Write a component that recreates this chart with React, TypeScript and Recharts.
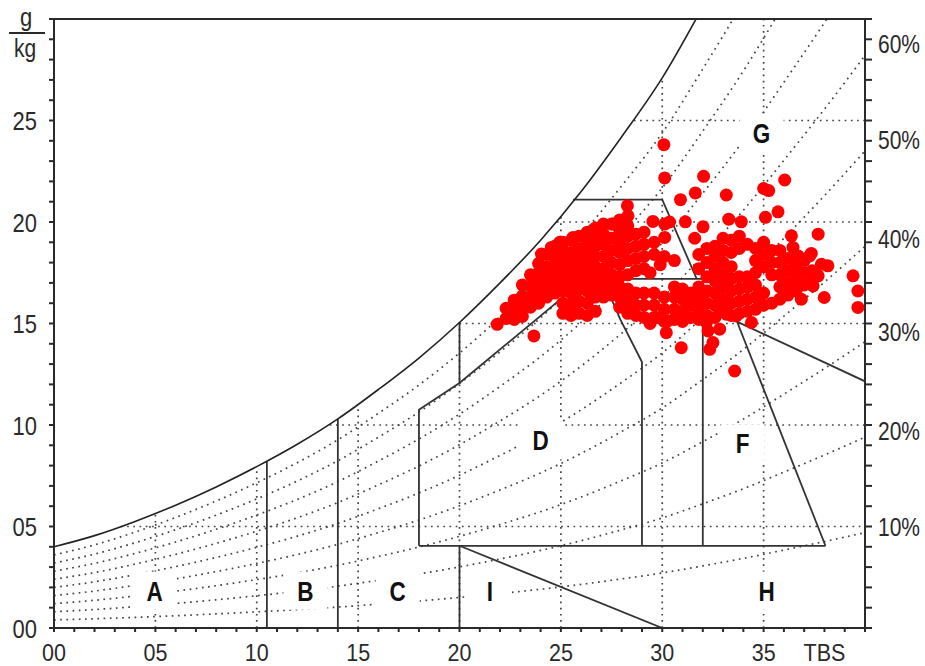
import { ComposedChart, Line, Scatter, XAxis, YAxis } from 'recharts';

const FONT = '"Liberation Sans", Arial, sans-serif';
const INK = '#2a2a2a';
const DOTTED = '#444';

// saturation humidity (g/kg) against dry bulb temperature (°C)
const satTemps = [0, 2, 4, 6, 8, 10, 12, 14, 16, 18, 20, 22, 24, 26, 28, 30, 32, 34, 36, 38, 40];
const satHumidity = [4.0, 4.55, 5.25, 6.05, 6.95, 7.95, 9.05, 10.3, 11.75, 13.3, 15.05, 17.0, 19.1, 21.5, 24.2, 27.1, 30.6, 34.3, 38.4, 42.6, 47.0];
const rhLevels = [10, 20, 30, 40, 50, 60, 70, 80, 90];

// dotted grid, kept below the saturation curve
const gridTemps = [5, 10, 15, 20, 25, 30, 35];
const gridTempTops = [5.65, 7.95, 11.0, 15.05, 20.3, 27.1, 30];
const gridHumidities = [5, 10, 15, 20, 25];
const gridHumidityStarts = [3.3, 13.6, 20.0, 24.8, 28.6];

const xTicks = [0, 1, 2, 3, 4, 5, 6, 7, 8, 9, 10, 11, 12, 13, 14, 15, 16, 17, 18, 19, 20, 21, 22, 23, 24, 25, 26, 27, 28, 29, 30, 31, 32, 33, 34, 35, 36, 37, 38, 39, 40];
const xLabelTicks = [0, 5, 10, 15, 20, 25, 30, 35, 38];
const xLabels = ['00', '05', '10', '15', '20', '25', '30', '35', 'TBS'];
const yTicks = [0, 1, 2, 3, 4, 5, 6, 7, 8, 9, 10, 11, 12, 13, 14, 15, 16, 17, 18, 19, 20, 21, 22, 23, 24, 25, 26, 27, 28, 29, 30];
const yLabelTicks = [0, 5, 10, 15, 20, 25];
const yLabels = ['00', '05', '10', '15', '20', '25'];
const rhLabelTicks = [4.98, 9.69, 14.58, 19.16, 24.02, 28.78];
const rhLabels = ['10%', '20%', '30%', '40%', '50%', '60%'];

// zone boundaries as polylines of [temperature, humidity]
const zoneEdges: [number, number][][] = [
  [[10.5, 0], [10.5, 8.2]],
  [[14, 0], [14, 10.3]],
  [[20, 0], [20, 4.05]],
  [[20, 4.05], [30, 0]],
  [[18, 4.05], [38.05, 4.05]],
  [[18, 4.05], [18, 10.75], [20, 12.07], [26.2, 17.2]],
  [[20, 12.07], [20, 15.05]],
  [[25.6, 21.1], [30, 21.1], [31.7, 17.2]],
  [[28.2, 17.2], [32, 17.2]],
  [[29, 4.05], [29, 13.1], [27.93, 15.2], [27.5, 16.2]],
  [[32, 4.05], [32, 17.2]],
  [[38.05, 4.05], [33.7, 15.06]],
  [[40, 12.15], [32.6, 15.6]],
];

const zoneLetters = ['A', 'B', 'C', 'I', 'H', 'D', 'F', 'G'];
const zoneLetterTemps = [4.96, 12.4, 16.95, 21.5, 35.15, 24.0, 33.97, 34.9];
const zoneLetterHumidities = [1.84, 1.84, 1.84, 1.84, 1.84, 9.24, 9.1, 24.4];

// hourly readings [dry bulb °C, humidity g/kg]
const readings: [number, number][] = [
  // scattered
  [30.08, 23.81], [30.12, 22.17], [32.04, 22.25], [31.63, 21.43], [30.9, 21.1], [33.16, 21.33],
  [35.0, 21.65], [35.25, 21.55], [36.04, 22.07], [35.71, 20.5], [35.09, 20.23], [33.28, 20.14],
  [33.9, 20.01], [31.14, 20.01], [32.01, 19.76], [36.37, 19.32], [37.69, 19.4], [37.35, 18.45],
  [36.45, 18.75], [28.28, 20.8], [28.31, 20.3], [29.54, 20.03], [30.12, 19.9], [30.12, 19.24],
  [30.36, 20.0], [27.57, 19.9], [24.04, 18.42], [24.53, 18.75], [24.94, 19.0], [25.6, 19.24],
  [21.86, 14.96], [23.67, 14.39], [30.2, 14.55], [29.71, 15.29], [30.27, 15.13], [29.4, 15.0],
  [30.94, 13.81], [32.34, 13.73], [32.5, 14.06], [32.83, 14.72], [32.26, 14.63], [32.18, 15.05],
  [33.57, 12.66], [34.4, 15.05], [33.65, 15.37], [33.16, 15.46], [36.86, 16.2], [37.99, 16.28],
  [39.65, 15.79], [39.65, 16.6], [39.41, 17.35], [37.44, 16.85], [37.69, 17.35], [37.85, 17.92],
  [38.17, 17.84], [37.27, 18.33], [36.7, 18.33], [29.4, 17.5], [29.9, 17.9], [31.6, 19.2],
  // warm humid mass
  [22.3, 15.25], [22.3, 15.75],
  [22.7, 15.2], [22.7, 15.7], [22.7, 16.15],
  [23.1, 15.35], [23.1, 15.85], [23.1, 16.35], [23.1, 16.9],
  [23.5, 15.8], [23.5, 16.3], [23.5, 16.85], [23.5, 17.4],
  [23.9, 16.0], [23.9, 16.5], [23.9, 17.0], [23.9, 17.5], [23.9, 17.95],
  [24.3, 16.3], [24.3, 16.8], [24.3, 17.3], [24.3, 17.8], [24.3, 18.4],
  [24.7, 16.5], [24.7, 16.95], [24.7, 17.45], [24.7, 17.95], [24.7, 18.35], [24.7, 18.8],
  [25.1, 15.5], [25.1, 16.0], [25.1, 16.6], [25.1, 17.1], [25.1, 17.6], [25.1, 18.1], [25.1, 18.6], [25.1, 19.0],
  [25.5, 15.4], [25.5, 15.95], [25.5, 16.5], [25.5, 17.0], [25.5, 17.5], [25.5, 18.0], [25.5, 18.5], [25.5, 19.1],
  [25.9, 15.5], [25.9, 16.1], [25.9, 16.7], [25.9, 17.2], [25.9, 17.7], [25.9, 18.2], [25.9, 18.7], [25.9, 19.3],
  [26.3, 15.4], [26.3, 16.0], [26.3, 16.6], [26.3, 17.1], [26.3, 17.6], [26.3, 18.1], [26.3, 18.6], [26.3, 19.1], [26.3, 19.5],
  [26.7, 15.6], [26.7, 16.3], [26.7, 16.8], [26.7, 17.3], [26.7, 17.8], [26.7, 18.3], [26.7, 18.8], [26.7, 19.3], [26.7, 19.7],
  [27.1, 16.3], [27.1, 16.8], [27.1, 17.2], [27.1, 17.7], [27.1, 18.3], [27.1, 18.9], [27.1, 19.4], [27.1, 19.9],
  [27.5, 16.4], [27.5, 16.9], [27.5, 17.4], [27.5, 18.0], [27.5, 18.6], [27.5, 19.2], [27.5, 19.9],
  [27.9, 15.8], [27.9, 16.3], [27.9, 16.8], [27.9, 17.3], [27.9, 17.9], [27.9, 18.5], [27.9, 19.0], [27.9, 19.6], [27.9, 20.1],
  [28.3, 15.5], [28.3, 16.1], [28.3, 16.7], [28.3, 17.4], [28.3, 18.1], [28.3, 18.7], [28.3, 19.3], [28.3, 19.8],
  [28.7, 15.4], [28.7, 15.9], [28.7, 16.5], [28.7, 17.6], [28.7, 18.2], [28.7, 18.8], [28.7, 19.4],
  [29.1, 15.3], [29.1, 15.9], [29.1, 16.5], [29.1, 17.7], [29.1, 18.3], [29.1, 18.9], [29.1, 19.5],
  [29.6, 15.3], [29.6, 15.9], [29.6, 16.5], [29.6, 18.4], [29.6, 19.0],
  [30.1, 15.1], [30.1, 15.7], [30.1, 16.3], [30.1, 18.3],
  // hot mass
  [30.6, 15.2], [30.6, 15.7], [30.6, 16.3], [30.6, 16.8], [30.6, 18.1],
  [31.0, 15.1], [31.0, 15.6], [31.0, 16.2], [31.0, 16.7],
  [31.4, 15.3], [31.4, 15.9], [31.4, 16.5],
  [31.8, 15.2], [31.8, 15.7], [31.8, 16.3], [31.8, 16.8], [31.8, 17.7], [31.8, 18.4],
  [32.2, 15.4], [32.2, 16.0], [32.2, 16.6], [32.2, 17.3], [32.2, 18.0], [32.2, 18.7],
  [32.6, 15.3], [32.6, 15.9], [32.6, 16.5], [32.6, 17.1], [32.6, 17.7], [32.6, 18.3], [32.6, 18.8],
  [33.0, 15.6], [33.0, 16.2], [33.0, 16.8], [33.0, 17.4], [33.0, 18.0], [33.0, 18.6], [33.0, 19.2],
  [33.4, 15.4], [33.4, 16.0], [33.4, 16.6], [33.4, 17.2], [33.4, 17.8], [33.4, 18.5], [33.4, 19.1],
  [33.8, 15.5], [33.8, 16.1], [33.8, 16.7], [33.8, 17.3], [33.8, 18.7], [33.8, 19.3],
  [34.2, 15.6], [34.2, 16.2], [34.2, 16.8], [34.2, 17.3], [34.2, 18.9],
  [34.6, 15.7], [34.6, 16.3], [34.6, 16.9], [34.6, 17.5], [34.6, 18.1], [34.6, 18.7],
  [35.0, 15.9], [35.0, 16.5], [35.0, 17.8], [35.0, 18.4], [35.0, 19.0],
  [35.4, 16.0], [35.4, 17.4], [35.4, 18.0], [35.4, 18.6],
  [35.8, 16.2], [35.8, 16.8], [35.8, 17.4], [35.8, 18.0], [35.8, 18.6],
  [36.2, 16.4], [36.2, 17.0], [36.2, 17.6], [36.2, 18.2],
  [36.6, 16.6], [36.6, 17.2], [36.6, 17.8],
  [37.0, 16.9], [37.0, 17.5], [37.0, 18.1],
  [37.4, 17.1], [37.4, 17.6],
];

const toPoints = (pairs: [number, number][]) => pairs.map(([t, w]) => ({ t, w }));

const satCurve = satTemps.map((t, i) => ({ t, w: satHumidity[i] }));
const rhCurves = rhLevels.map((rh) => satTemps.map((t, i) => ({ t, w: (satHumidity[i] * rh) / 100 })));
const gridVertical = gridTemps.map((t, i) => [{ t, w: 0 }, { t, w: gridTempTops[i] }]);
const gridHorizontal = gridHumidities.map((w, i) => [{ t: gridHumidityStarts[i], w }, { t: 40, w }]);
const letterPoints = zoneLetters.map((letter, i) => ({ t: zoneLetterTemps[i], w: zoneLetterHumidities[i], letter }));
const readingPoints = toPoints(readings);

// the axis lettering is tall and narrow, so it is stretched vertically
function TallText({ x, y, anchor, size, dy, stretch = 1.2, children }: any) {
  return (
    <text
      transform={`translate(${x},${y}) scale(1,${stretch})`}
      textAnchor={anchor}
      dy={dy}
      fontFamily={FONT}
      fontSize={size}
      fill={INK}
    >
      {children}
    </text>
  );
}

function BottomTick(props: any) {
  const { x, y, payload } = props;
  const i = xLabelTicks.indexOf(payload.value);
  if (i < 0) return null;
  return (
    <TallText x={x} y={y} anchor="middle" size={21.5} dy="0.72em" stretch={1.1}>
      {xLabels[i]}
    </TallText>
  );
}

function LeftTick(props: any) {
  const { x, y, payload } = props;
  const i = yLabelTicks.indexOf(payload.value);
  if (i < 0) return null;
  return <TallText x={x} y={y} anchor="end" size={22} dy="0.36em">{yLabels[i]}</TallText>;
}

function RightTick(props: any) {
  const { x, y, payload } = props;
  const i = rhLabelTicks.indexOf(payload.value);
  if (i >= 0) {
    return <TallText x={x + 13} y={y} anchor="start" size={21} dy="0.36em">{rhLabels[i]}</TallText>;
  }
  return <line x1={x} x2={x + 7} y1={y} y2={y} stroke={INK} strokeWidth={2} />;
}

function ZoneLetter(props: any) {
  const { cx, cy, payload } = props;
  return (
    <g>
      <rect x={cx - 22} y={cy - 19} width={44} height={38} fill="#fff" />
      <text
        transform={`translate(${cx},${cy}) scale(0.9,1.1)`}
        dy="0.36em"
        textAnchor="middle"
        fontFamily={FONT}
        fontWeight="bold"
        fontSize={25}
        fill="#111"
      >
        {payload.letter}
      </text>
    </g>
  );
}

function Reading(props: any) {
  return <circle cx={props.cx} cy={props.cy} r={6.5} fill="#ff0000" />;
}

const dottedLine = {
  type: 'linear' as const,
  dataKey: 'w',
  stroke: DOTTED,
  strokeWidth: 1.7,
  strokeDasharray: '1.7 4.5',
  dot: false,
  activeDot: false,
  isAnimationActive: false,
};

export default function App() {
  return (
    <div style={{ position: 'absolute', left: 0, top: 0, width: 925, height: 666, background: '#fff' }}>
      <ComposedChart width={925} height={666} margin={{ top: 0, right: 0, bottom: 0, left: 0 }}>
        <XAxis
          dataKey="t"
          type="number"
          domain={[0, 40]}
          allowDataOverflow
          ticks={xTicks}
          interval={0}
          tick={<BottomTick />}
          tickSize={4}
          tickMargin={11.5}
          height={38}
          stroke={INK}
          strokeWidth={2}
        />
        <XAxis
          xAxisId="top"
          orientation="top"
          dataKey="t"
          type="number"
          domain={[0, 40]}
          allowDataOverflow
          ticks={xTicks}
          interval={0}
          tick={false}
          tickSize={4}
          height={19}
          stroke={INK}
          strokeWidth={2}
        />
        <YAxis
          dataKey="w"
          type="number"
          domain={[0, 30]}
          allowDataOverflow
          ticks={yTicks}
          interval={0}
          tick={<LeftTick />}
          tickSize={5}
          tickMargin={12}
          width={54}
          stroke={INK}
          strokeWidth={2}
        />
        <YAxis
          yAxisId="right"
          orientation="right"
          dataKey="w"
          type="number"
          domain={[0, 30]}
          allowDataOverflow
          ticks={[...yTicks, ...rhLabelTicks]}
          interval={0}
          tick={<RightTick />}
          tickLine={false}
          tickSize={0}
          tickMargin={0}
          width={60}
          stroke={INK}
          strokeWidth={2}
        />

        {/* carries the top and right frame axes */}
        <Line
          xAxisId="top"
          yAxisId="right"
          data={satCurve}
          dataKey="w"
          stroke="none"
          dot={false}
          activeDot={false}
          isAnimationActive={false}
        />

        {rhCurves.map((curve, i) => (
          <Line key={`rh-${i}`} data={curve} {...dottedLine} type="monotone" />
        ))}
        {gridVertical.map((seg, i) => (
          <Line key={`gv-${i}`} data={seg} {...dottedLine} />
        ))}
        {gridHorizontal.map((seg, i) => (
          <Line key={`gh-${i}`} data={seg} {...dottedLine} />
        ))}

        <Scatter data={letterPoints} shape={<ZoneLetter />} isAnimationActive={false} />

        {zoneEdges.map((edge, i) => (
          <Line
            key={`zone-${i}`}
            data={toPoints(edge)}
            type="linear"
            dataKey="w"
            stroke="#333"
            strokeWidth={1.8}
            dot={false}
            activeDot={false}
            isAnimationActive={false}
          />
        ))}
        <Line
          data={satCurve}
          type="monotone"
          dataKey="w"
          stroke="#222"
          strokeWidth={1.6}
          dot={false}
          activeDot={false}
          isAnimationActive={false}
        />

        <Scatter data={readingPoints} shape={<Reading />} isAnimationActive={false} />
      </ComposedChart>

      <svg width={60} height={70} style={{ position: 'absolute', left: 0, top: 0 }}>
        <text transform="translate(26,26) scale(1,1.2)" textAnchor="middle" fontFamily={FONT} fontSize={22} fill={INK}>g</text>
        <line x1={9} x2={45} y1={33} y2={33} stroke={INK} strokeWidth={2} />
        <text transform="translate(25,57) scale(1,1.2)" textAnchor="middle" fontFamily={FONT} fontSize={21} fill={INK}>kg</text>
      </svg>
    </div>
  );
}
